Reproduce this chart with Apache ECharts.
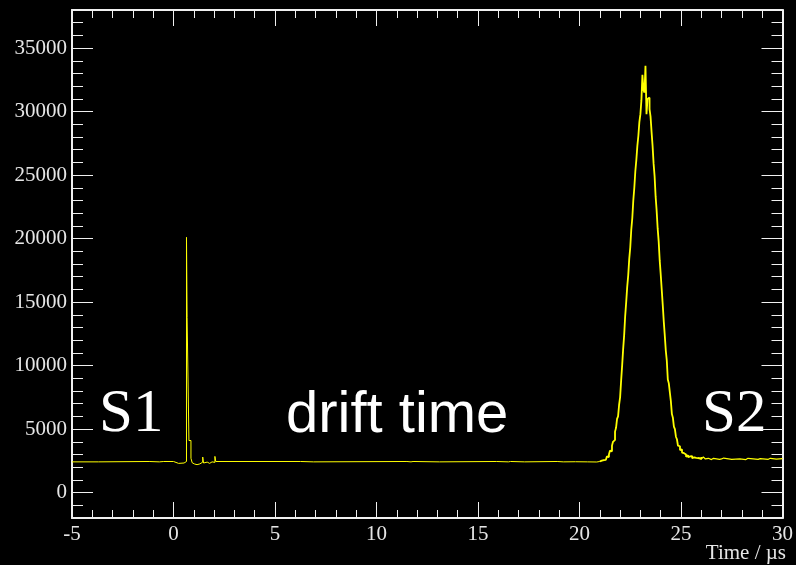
<!DOCTYPE html>
<html>
<head>
<meta charset="utf-8">
<script src="https://cdn.jsdelivr.net/npm/echarts@6/dist/echarts.min.js"></script>
<style>
  html, body { margin: 0; padding: 0; background: #000; }
  #chart { width: 796px; height: 565px; }
</style>
</head>
<body>
<div id="chart"></div>
<script>
// baseline + S1 region: bin left edges (µs) and counts
const baseTimes = [
  -5.0, -3.7, -1.2, -0.7, -0.48, -0.42, 0.0, 0.25, 0.52, 0.64,
  0.67, 0.76, 0.86, 0.92, 0.98, 1.04, 1.1, 1.16, 1.22, 1.3,
  1.44, 1.48, 1.56, 1.66, 1.78, 1.9, 2.04, 2.08, 6.25, 6.9,
  11.5, 11.7, 11.8, 13.1, 15.9, 16.5, 16.6, 17.3, 18.9, 19.2,
  19.8, 20.4, 20.85, 21.0
];
const baseCounts = [
  2420, 2450, 2420, 2450, 2560, 2450, 2300, 2330, 2450, 20100,
  13800, 4100, 2700, 2350, 2250, 2380, 2200, 2320, 2260, 2400,
  2800, 2330, 2400, 2300, 2420, 2380, 2850, 2450, 2420, 2450,
  2420, 2450, 2420, 2450, 2420, 2450, 2420, 2450, 2420, 2430,
  2420, 2410, 2450, 2450
];

// S2 region: histogram bins of 0.05 µs starting at 21.0 µs
const s2Start = 21.0;
const s2BinWidth = 0.05;
const s2Counts = [
  2450, 2520, 2470, 2560, 2620, 2580, 2720, 2850, 2800, 3000,
  3300, 3250, 3700, 4000, 4150, 4800, 5100, 5800, 6000, 6900,
  7500, 8800, 10000, 11300, 12400, 13900, 15000, 16200, 17100, 18400,
  19300, 20700, 21600, 23000, 24000, 25300, 26200, 27300, 28100, 29200,
  29800, 30900, 32900, 31700, 31500, 33600, 29800, 31000, 31100, 30200,
  29600, 28400, 27300, 25900, 24900, 23300, 22200, 20800, 19800, 18300,
  17200, 16000, 14800, 13500, 12400, 11200, 10400, 8900, 8600, 7900,
  7200, 6200, 5900, 5200, 5000, 4400, 4200, 3700, 3650, 3350,
  3400, 3150, 3100, 2950, 3000, 2820, 2950, 2780, 2850, 2720,
  2880, 2700, 2780, 2660, 2740, 2650, 2720
];

// tail after S2
const tailTimes = [
  25.85, 25.9, 26.0, 26.1, 26.2, 26.35, 26.5, 26.6, 26.9, 27.0,
  27.1, 27.5, 27.9, 28.2, 28.3, 28.8, 28.9, 29.3, 29.4, 29.7, 30.0
];
const tailCounts = [
  2750, 2650, 2800, 2650, 2700, 2600, 2700, 2620, 2650, 2720,
  2620, 2650, 2600, 2700, 2620, 2680, 2620, 2700, 2630, 2680, 2640
];

const yMajorTicks = [0, 5000, 10000, 15000, 20000, 25000, 30000, 35000];
const yMinorTicks = [
  -2000, -1000, 1000, 2000, 3000, 4000, 6000, 7000, 8000, 9000,
  11000, 12000, 13000, 14000, 16000, 17000, 18000, 19000, 21000, 22000,
  23000, 24000, 26000, 27000, 28000, 29000, 31000, 32000, 33000, 34000,
  36000, 37000
];

const baseData = baseTimes.map((t, i) => [t, baseCounts[i]]);
const s2Data = s2Counts.map((v, i) => [+(s2Start + i * s2BinWidth).toFixed(2), v]);
const tailData = tailTimes.map((t, i) => [t, tailCounts[i]]);
// 尾段接在 S2 最后一个 bin 之后
const s2Full = s2Data.concat(tailData.slice(0, 3));

const FRAME = '#f0f0f0';
const LABEL = '#e6e6e6';
const YELLOW = '#ffff00';
const SERIF = '"Liberation Serif", "DejaVu Serif", serif';
const SANS = '"Liberation Sans", Arial, sans-serif';

const xBase = (pos, showLabel) => ({
  type: 'value',
  position: pos,
  min: -5,
  max: 30,
  interval: 5,
  axisLine: { show: true, onZero: false, lineStyle: { color: FRAME, width: 2 } },
  axisTick: { show: true, inside: true, length: 16, lineStyle: { color: FRAME, width: 1 } },
  minorTick: { show: true, splitNumber: 5, length: 8, lineStyle: { color: FRAME, width: 1 } },
  axisLabel: {
    show: showLabel, margin: 6, color: LABEL,
    fontFamily: SERIF, fontSize: 21, formatter: (v) => String(v)
  },
  splitLine: { show: false },
  minorSplitLine: { show: false }
});

const yBase = (pos, ticks, len, showLabel, showLine) => ({
  type: 'value',
  position: pos,
  min: -2000,
  max: 38000,
  axisLine: { show: showLine, onZero: false, lineStyle: { color: FRAME, width: 2 } },
  axisTick: {
    show: true, inside: true, length: len, customValues: ticks,
    lineStyle: { color: FRAME, width: 1 }
  },
  axisLabel: {
    show: showLabel, customValues: yMajorTicks, margin: 5, color: LABEL,
    fontFamily: SERIF, fontSize: 21, formatter: (v) => String(v)
  },
  splitLine: { show: false }
});

const lineSeries = (data, width) => ({
  type: 'line',
  xAxisIndex: 0,
  yAxisIndex: 0,
  data,
  step: 'end',
  showSymbol: false,
  lineStyle: { color: YELLOW, width },
  emphasis: { disabled: true }
});

const chart = echarts.init(document.getElementById('chart'), null, { renderer: 'canvas' });

chart.setOption({
  backgroundColor: '#000',
  animation: false,
  grid: { left: 72, right: 10, top: 10, bottom: 47, containLabel: false },
  xAxis: [xBase('bottom', true), xBase('top', false)],
  yAxis: [
    yBase('left', yMajorTicks, 21, true, true),
    yBase('left', yMinorTicks, 11, false, false),
    yBase('right', yMajorTicks, 21, false, true),
    yBase('right', yMinorTicks, 11, false, false)
  ],
  series: [
    lineSeries(baseData, 1),
    lineSeries(s2Full, 1.8),
    lineSeries(tailData, 1.2)
  ],
  graphic: [
    { type: 'text', style: { text: 'S1', x: 99, y: 415, font: '61px ' + SERIF, fill: '#fff', align: 'left', verticalAlign: 'middle' } },
    { type: 'text', style: { text: 'drift time', x: 286, y: 416, font: '58px ' + SANS, fill: '#fff', align: 'left', verticalAlign: 'middle' } },
    { type: 'text', style: { text: 'S2', x: 702, y: 415, font: '61px ' + SERIF, fill: '#fff', align: 'left', verticalAlign: 'middle' } },
    { type: 'text', style: { text: 'Time / µs', x: 786, y: 553, font: '21px ' + SERIF, fill: LABEL, align: 'right', verticalAlign: 'middle' } }
  ]
});
</script>
</body>
</html>
